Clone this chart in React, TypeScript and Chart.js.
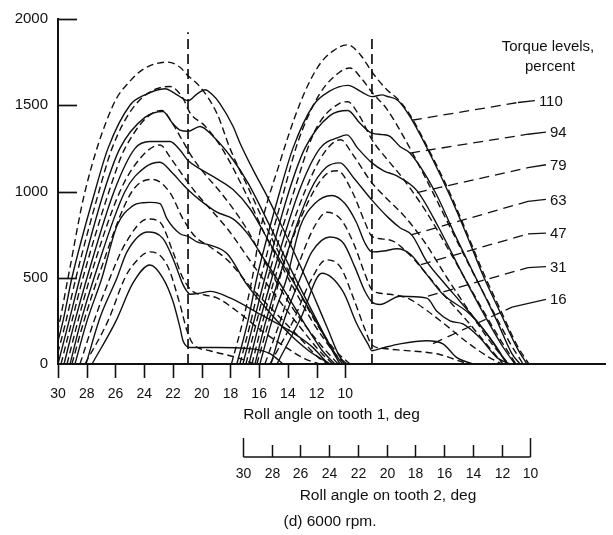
import React, { useEffect, useRef } from "react";
import { Chart, registerables } from "chart.js";

Chart.register(...registerables);

const FONT = '"Liberation Sans", Arial, Helvetica, sans-serif';
const INK = "#111111";

// ---- axes ----
const yTicks = [0, 500, 1000, 1500, 2000];
const tooth1Ticks = [30, 28, 26, 24, 22, 20, 18, 16, 14, 12, 10];
const tooth2Ticks = [30, 28, 26, 24, 22, 20, 18, 16, 14, 12, 10];
const tooth2Offset = 12.87; // tooth-2 roll angle minus tooth-1 roll angle
const xMin = -8.07;
const xMax = 30;
const yMin = 0;
const yMax = 2000;

const torqueLevels = [110, 94, 79, 63, 47, 31, 16];

// ---- tooth 1 (angle on tooth 1, load) ----
const t1S110 = [[30.42,0],[29.65,250],[29.03,500],[27.43,1000],[26.52,1250],[24.99,1500],[23.95,1560],[22.55,1596],[21.8,1565],[20.95,1527],[20.33,1565],[19.77,1590],[19.3,1565],[18.73,1510],[17.82,1378],[17.33,1280],[16.43,1127],[15.46,975],[14.34,784],[13.16,574],[12.25,404],[11.21,200],[10.38,40],[9.89,0]];
const t1D110 = [[30.7,0],[29.95,220],[29.3,500],[28.12,1000],[26.17,1500],[24.99,1640],[23.95,1715],[22.34,1750],[21.51,1720],[20.95,1671],[20.12,1607],[18.94,1453],[18.03,1250],[16.64,1000],[15.25,750],[13.72,500],[12.12,250],[10.72,80],[9.68,0]];
const t1S94 = [[30.0,0],[29.23,250],[28.47,500],[26.8,1000],[25.69,1250],[23.95,1430],[22.69,1464],[22.07,1400],[21.51,1356],[20.95,1349],[20.12,1377],[19.21,1320],[17.82,1184],[16.78,1050],[15.25,800],[13.86,560],[12.46,330],[11.21,130],[10.38,20],[10.17,0]];
const t1D94 = [[30.21,0],[29.44,250],[28.75,500],[27.15,1000],[26.24,1250],[24.64,1500],[22.21,1609],[21.3,1540],[20.81,1455],[19.77,1380],[18.59,1250],[16.99,1000],[15.59,750],[13.99,500],[12.32,250],[10.72,60],[10.03,0]];
const t1S79 = [[29.58,0],[28.82,250],[27.98,500],[26.1,1000],[24.64,1250],[23.6,1290],[22.21,1290],[21.51,1240],[20.95,1180],[20.12,1131],[19.07,1080],[17.82,1011],[16.64,900],[15.25,700],[13.65,480],[12.12,260],[10.93,80],[10.38,0]];
const t1D79 = [[29.79,0],[29.03,250],[28.26,500],[26.45,1000],[25.34,1250],[22.76,1470],[22.07,1400],[21.37,1300],[20.67,1200],[19.77,1100],[18.73,1000],[16.99,800],[15.39,560],[13.72,330],[11.91,130],[10.51,0]];
const t1S63 = [[29.16,0],[28.4,250],[27.49,500],[25.34,1000],[23.95,1140],[22.9,1170],[22.07,1110],[21.3,1040],[20.95,1010],[20.12,950],[18.94,880],[17.82,841],[16.85,760],[15.59,600],[14.2,420],[12.81,230],[11.63,80],[10.72,0]];
const t1D63 = [[29.37,0],[28.61,250],[27.77,500],[25.69,1000],[24.2,1200],[22.9,1270],[22.21,1200],[21.37,1100],[20.47,1000],[19.42,900],[18.17,780],[16.64,600],[14.9,400],[13.02,200],[11.63,60],[10.86,0]];
const t1S47 = [[28.82,0],[27.98,250],[26.94,500],[25.89,803],[24.78,918],[24.1,935],[23.6,937],[22.9,930],[22.41,841],[21.51,755],[20.95,740],[20.33,708],[19.42,689],[18.24,640],[16.85,460],[15.59,330],[14.2,200],[12.6,80],[11.07,0]];
const t1D47 = [[29.03,0],[28.19,250],[27.22,500],[24.85,1000],[23.39,1070],[22.21,994],[21.3,841],[20.47,740],[19.42,680],[18.17,600],[16.64,450],[14.9,300],[13.16,150],[11.91,40],[11.21,0]];
const t1S31 = [[28.05,0],[27.08,268],[25.89,500],[25.2,650],[23.74,765],[22.69,727],[22.0,612],[21.3,460],[21.02,421],[20.81,404],[20.12,411],[19.42,421],[18.03,383],[15.94,289],[13.86,192],[12.25,95],[11.28,10],[11.07,0]];
const t1D31 = [[28.47,0],[27.49,250],[26.38,500],[25.3,700],[23.74,841],[22.9,822],[22.0,650],[21.3,497],[20.61,420],[19.77,400],[18.94,383],[17.54,306],[15.94,200],[14.2,100],[12.81,30],[11.77,0]];
const t1S16 = [[27.63,0],[25.96,250],[24.78,470],[23.6,574],[22.69,497],[22.0,364],[21.51,211],[21.3,135],[20.81,96],[18.94,96],[16.64,89],[15.25,60],[14.34,0]];
const t1D16 = [[28.12,0],[26.52,250],[25.34,500],[24.78,574],[23.6,650],[22.41,574],[21.51,345],[21.02,192],[20.61,117],[19.42,77],[17.54,37],[16.29,0]];

// ---- tooth 2 (angle on tooth 2, load) ----
const t2S110 = [[30.42,0],[29.65,250],[29.03,500],[27.43,1000],[26.52,1250],[25.1,1500],[24.0,1580],[22.69,1615],[21.7,1575],[21.02,1550],[20.3,1560],[19.98,1552],[19.21,1528],[18.38,1435],[16.78,1184],[15.59,975],[14.41,745],[13.3,516],[12.12,304],[10.93,95],[10.24,0]];
const t2D110 = [[30.8,0],[30.0,250],[29.3,520],[28.82,765],[27.5,1150],[26.03,1510],[24.8,1720],[23.74,1814],[22.69,1850],[21.8,1790],[21.02,1693],[19.98,1590],[19.21,1535],[18.38,1445],[16.78,1195],[15.59,990],[14.41,760],[13.3,535],[12.12,322],[10.93,110],[10.1,0]];
const t2S94 = [[30.0,0],[29.23,250],[28.47,500],[26.8,1000],[25.69,1250],[23.95,1440],[22.69,1470],[21.9,1400],[21.02,1338],[20.3,1330],[19.77,1320],[19.07,1261],[18.38,1223],[16.64,1000],[15.25,750],[13.79,500],[12.32,250],[11.28,60],[10.72,0]];
const t2D94 = [[30.21,0],[29.44,250],[28.75,500],[27.15,1000],[26.2,1280],[24.7,1560],[23.3,1690],[22.55,1716],[21.7,1650],[21.02,1575],[20.0,1480],[18.9,1330],[17.3,1080],[15.8,830],[14.3,580],[12.8,340],[11.4,120],[10.5,0]];
const t2S79 = [[29.58,0],[28.82,250],[27.98,500],[26.1,1000],[24.64,1250],[23.3,1315],[22.76,1328],[22.0,1250],[21.02,1166],[20.2,1120],[19.28,1090],[17.89,1005],[16.43,800],[14.9,550],[13.3,300],[11.91,100],[11.07,0]];
const t2D79 = [[29.79,0],[29.03,250],[28.26,500],[26.45,1000],[25.0,1350],[23.3,1510],[22.7,1520],[21.9,1440],[21.02,1300],[20.0,1190],[19.0,1090],[17.3,890],[15.6,650],[13.9,400],[12.3,170],[11.0,0]];
const t2S63 = [[29.16,0],[28.4,250],[27.49,500],[25.34,1000],[24.2,1140],[23.25,1166],[22.3,1080],[21.02,950],[19.9,850],[19.07,790],[18.24,747],[17.2,593],[16.08,478],[14.9,364],[13.72,249],[12.32,95],[11.63,0]];
const t2D63 = [[29.37,0],[28.61,250],[27.77,500],[25.69,1000],[24.3,1230],[23.2,1300],[22.4,1220],[21.02,1050],[20.0,960],[18.8,860],[17.3,700],[15.8,500],[14.2,300],[12.7,120],[11.5,0]];
const t2S47 = [[28.82,0],[27.98,250],[26.94,500],[26.0,800],[25.0,930],[23.81,977],[22.9,930],[22.1,820],[21.5,700],[21.02,650],[20.2,655],[19.28,668],[18.38,639],[17.2,518],[16.08,404],[14.2,289],[13.02,175],[11.91,37],[11.56,0]];
const t2D47 = [[29.03,0],[28.19,250],[27.22,560],[25.4,950],[24.2,1100],[23.4,1120],[22.4,1000],[21.5,820],[21.02,740],[19.77,719],[18.6,650],[17.3,530],[15.9,390],[14.4,250],[13.0,110],[11.9,0]];
const t2S31 = [[28.05,0],[27.08,268],[25.89,520],[25.2,650],[23.95,736],[23.0,700],[22.2,560],[21.5,420],[21.02,360],[20.47,345],[19.07,393],[17.2,382],[16.5,306],[15.59,250],[14.69,232],[13.51,152],[12.32,37],[11.42,0]];
const t2D31 = [[28.47,0],[27.4,250],[26.2,560],[25.0,800],[24.15,880],[23.2,840],[22.3,700],[21.5,520],[21.02,430],[20.4,410],[19.77,404],[18.5,380],[17.2,310],[15.8,220],[14.3,120],[12.9,40],[12.0,0]];
const t2S16 = [[27.63,0],[25.96,268],[24.5,526],[23.04,421],[22.07,232],[21.3,117],[21.02,77],[20.2,95],[19.07,117],[17.2,135],[16.08,117],[15.11,37],[13.99,0]];
const t2D16 = [[28.12,0],[26.5,250],[25.3,480],[24.2,604],[23.2,560],[22.3,380],[21.5,200],[21.02,110],[20.2,90],[19.0,80],[17.5,70],[16.3,55],[15.2,25],[14.3,0]];

const tooth1Solid = [t1S110, t1S94, t1S79, t1S63, t1S47, t1S31, t1S16];
const tooth1Dashed = [t1D110, t1D94, t1D79, t1D63, t1D47, t1D31, t1D16];
const tooth2Solid = [t2S110, t2S94, t2S79, t2S63, t2S47, t2S31, t2S16];
const tooth2Dashed = [t2D110, t2D94, t2D79, t2D63, t2D47, t2D31, t2D16];

// ---- contact-change lines (tooth-1 angle, top load) ----
const contactAngles = [20.95, 8.15];
const contactTops = [1923, 1910];

// ---- leader lines to torque labels (tooth-1 angle, load) ----
const leaderStart = [[5.37,1413],[5.5,1223],[5.02,994],[5.43,748],[4.74,576],[4.25,393],[3.9,118]];
const leaderKnee = [[-2.01,1516],[-2.71,1332],[-2.71,1138],[-2.71,943],[-2.71,754],[-2.71,559],[-1.6,330]];
const leaderEnd = [[-3.19,1527],[-3.96,1344],[-3.96,1155],[-3.96,954],[-3.96,759],[-3.96,564],[-3.96,375]];

const curve = (pts: number[][], dashed: boolean, axis: string) => ({
  data: pts.map(([x, y]) => ({ x, y })),
  xAxisID: axis,
  borderColor: INK,
  borderWidth: 1.4,
  borderDash: dashed ? [7, 4] : [],
  pointRadius: 0,
  fill: false,
  cubicInterpolationMode: "monotone" as const,
});

const extras = {
  id: "extras",
  afterDraw(chart: any) {
    const { ctx, chartArea, scales } = chart;
    const xs = scales.x;
    const x2 = scales.x2;
    const ys = scales.y;
    ctx.save();
    ctx.strokeStyle = INK;
    ctx.fillStyle = INK;
    ctx.lineWidth = 1.7;
    // inward y ticks
    yTicks.filter((v) => v > 0).forEach((v) => {
      const py = Math.round(ys.getPixelForValue(v)) + 0.5;
      ctx.beginPath();
      ctx.moveTo(chartArea.left, py);
      ctx.lineTo(chartArea.left + 19, py);
      ctx.stroke();
    });
    // tooth 1 tick marks (downward)
    ctx.lineWidth = 1.6;
    tooth1Ticks.forEach((v) => {
      const p = Math.round(xs.getPixelForValue(v)) + 0.5;
      ctx.beginPath();
      ctx.moveTo(p, chartArea.bottom);
      ctx.lineTo(p, chartArea.bottom + 14);
      ctx.stroke();
    });
    // tooth 2 bracket scale
    const base = chartArea.bottom + 93;
    const px = tooth2Ticks.map((v) => Math.round(x2.getPixelForValue(v)) + 0.5);
    ctx.lineWidth = 1.5;
    ctx.beginPath();
    ctx.moveTo(Math.min(...px), base);
    ctx.lineTo(Math.max(...px), base);
    ctx.stroke();
    px.forEach((p, i) => {
      const h = i === 0 || i === px.length - 1 ? 19 : 12;
      ctx.beginPath();
      ctx.moveTo(p, base);
      ctx.lineTo(p, base - h);
      ctx.stroke();
    });
    ctx.font = `14px ${FONT}`;
    ctx.textAlign = "center";
    ctx.textBaseline = "middle";
    tooth2Ticks.forEach((v, i) => ctx.fillText(String(v), px[i], base + 17));
    // torque level labels
    ctx.font = `15px ${FONT}`;
    ctx.textAlign = "left";
    torqueLevels.forEach((lv, i) => {
      const [ax, av] = leaderEnd[i];
      ctx.fillText(String(lv), xs.getPixelForValue(ax) + 4, ys.getPixelForValue(av) + 1);
    });
    ctx.restore();
  },
};

function TextAt({ x, y, size, children }: { x: number; y: number; size: number; children: React.ReactNode }) {
  return (
    <div
      style={{
        position: "absolute",
        left: x,
        top: y,
        transform: "translate(-50%, -50%)",
        font: `${size}px ${FONT}`,
        color: INK,
        whiteSpace: "nowrap",
        lineHeight: 1,
      }}
    >
      {children}
    </div>
  );
}

export default function App() {
  const ref = useRef<HTMLCanvasElement | null>(null);

  useEffect(() => {
    if (!ref.current) return;
    const datasets: any[] = [];
    tooth1Dashed.forEach((p) => datasets.push(curve(p, true, "x")));
    tooth1Solid.forEach((p) => datasets.push(curve(p, false, "x")));
    tooth2Dashed.forEach((p) => datasets.push(curve(p, true, "x2")));
    tooth2Solid.forEach((p) => datasets.push(curve(p, false, "x2")));
    contactAngles.forEach((a, i) =>
      datasets.push({
        data: [{ x: a, y: 0 }, { x: a, y: contactTops[i] }],
        xAxisID: "x",
        borderColor: INK,
        borderWidth: 1.7,
        borderDash: [10, 5],
        pointRadius: 0,
        fill: false,
      })
    );
    torqueLevels.forEach((_, i) =>
      datasets.push({
        data: [leaderStart[i], leaderKnee[i], leaderEnd[i]].map(([x, y]) => ({ x, y })),
        xAxisID: "x",
        borderColor: INK,
        borderWidth: 1.3,
        pointRadius: 0,
        fill: false,
        segment: {
          borderDash: (c: any) => (c.p0DataIndex === 0 ? [10, 6] : []),
        },
      })
    );

    const chart = new Chart(ref.current, {
      type: "line",
      data: { datasets },
      options: {
        animation: false,
        responsive: false,
        devicePixelRatio: 1,
        layout: { padding: { top: 15, right: 8, bottom: 111, left: 0 } },
        plugins: { legend: { display: false }, tooltip: { enabled: false } },
        scales: {
          x: {
            type: "linear",
            reverse: true,
            min: xMin,
            max: xMax,
            afterBuildTicks: (s: any) => {
              s.ticks = tooth1Ticks.map((v) => ({ value: v }));
            },
            afterFit: (s: any) => {
              s.height = 60;
            },
            grid: { display: false, drawTicks: false },
            border: { display: true, color: INK, width: 2 },
            ticks: {
              color: INK,
              font: { family: FONT, size: 14 },
              padding: 22,
              maxRotation: 0,
              autoSkip: false,
              callback: (v: any) => String(v),
            },
            title: {
              display: true,
              text: "Roll angle on tooth 1, deg",
              color: INK,
              font: { family: FONT, size: 15.5 },
              padding: { top: 2, bottom: 0 },
            },
          },
          x2: {
            type: "linear",
            display: false,
            reverse: true,
            position: "bottom",
            min: xMin + tooth2Offset,
            max: xMax + tooth2Offset,
          },
          y: {
            type: "linear",
            min: yMin,
            max: yMax,
            afterBuildTicks: (s: any) => {
              s.ticks = yTicks.map((v) => ({ value: v }));
            },
            afterFit: (s: any) => {
              s.width = 58;
            },
            grid: { display: true, drawOnChartArea: false, drawTicks: false },
            border: { display: true, color: INK, width: 2 },
            ticks: {
              color: INK,
              font: { family: FONT, size: 15 },
              padding: 10,
              callback: (v: any) => String(v),
            },
          },
        },
      } as any,
      plugins: [extras],
    });
    return () => chart.destroy();
  }, []);

  return (
    <div style={{ position: "absolute", left: 0, top: 0, width: 613, height: 535, background: "#fff" }}>
      <canvas ref={ref} width={613} height={535} style={{ display: "block" }} />
      <TextAt x={548} y={45} size={15}>Torque levels,</TextAt>
      <TextAt x={550} y={65} size={15}>percent</TextAt>
      <TextAt x={388} y={495} size={15.5}>Roll angle on tooth 2, deg</TextAt>
      <TextAt x={330} y={521} size={15.5}>(d) 6000 rpm.</TextAt>
    </div>
  );
}
